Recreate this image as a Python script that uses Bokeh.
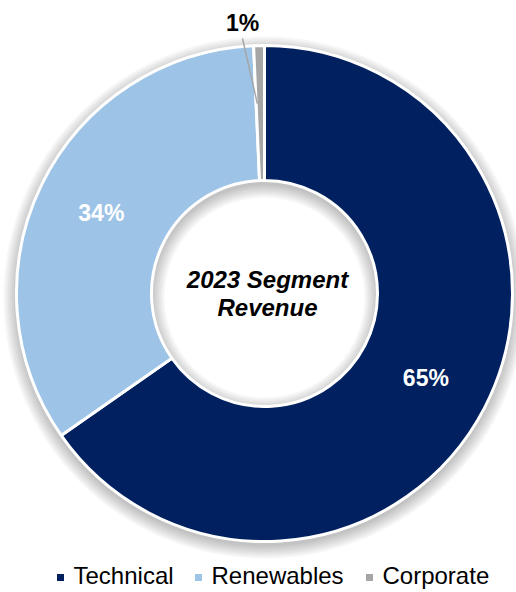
import math
from bokeh.plotting import figure
from bokeh.models import Range1d, ColumnDataSource
from bokeh.core.properties import value
from bokeh.embed import file_html
from bokeh.resources import INLINE

# ---- data ----
categories = ["Technical", "Renewables", "Corporate"]
shares = [65.3, 34.0, 0.7]
pct_labels = ["65%", "34%", "1%"]
colors = ["#002060", "#9DC3E6", "#A6A6A6"]
center_title = ["2023 Segment", "Revenue"]

FONT = "Liberation Sans"
W, H = 516, 592

p = figure(width=W, height=H, output_backend="svg", toolbar_location=None,
           x_range=Range1d(0, W), y_range=Range1d(0, H),
           x_axis_location=None, y_axis_location=None, min_border=0)
p.grid.visible = False
p.outline_line_color = None
p.background_fill_color = "white"
p.border_fill_color = "white"


def Y(wy):
    # window pixel row -> data y
    return H - wy


cx, cy = 264, Y(293)
R_out, R_in = 248, 113

# ---- soft drop shadow ----
for s in [1, 3, 5, 7, 9, 11, 13]:
    p.annulus(x=cx, y=cy - 4, inner_radius=R_in - s, outer_radius=R_out + s,
              fill_color="black", fill_alpha=0.035, line_color=None)

# ---- wedges ----
total = sum(shares)
cum = 0.0
starts, ends, mids = [], [], []
for v in shares:
    a0 = math.pi / 2 - 2 * math.pi * cum / total
    cum += v
    a1 = math.pi / 2 - 2 * math.pi * cum / total
    starts.append(a0)
    ends.append(a1)
    mids.append((a0 + a1) / 2)

src = ColumnDataSource(dict(start=starts, end=ends, color=colors, cat=categories))
p.annular_wedge(x=cx, y=cy, inner_radius=R_in, outer_radius=R_out,
                start_angle="start", end_angle="end", direction="clock",
                fill_color="color", line_color="white", line_width=3, source=src)

# ---- inside labels ----
r_lab = 182
lx = [cx + r_lab * math.cos(m) for m in mids[:2]]
ly = [cy + r_lab * math.sin(m) for m in mids[:2]]
p.text(x=lx, y=ly, text=pct_labels[:2], text_color="white",
       text_font=value(FONT), text_font_style="bold", text_font_size="23px",
       text_align="center", text_baseline="middle")

# ---- outside label for small slice with leader line ----
m = mids[2]
r_end = 190
ex, ey = cx + r_end * math.cos(m) - 3, cy + r_end * math.sin(m)
lab_x, lab_y = 242, Y(22)
p.line(x=[lab_x, ex], y=[Y(38), ey], line_color="#A6A6A6", line_width=1.5)
p.text(x=[lab_x], y=[lab_y], text=[pct_labels[2]], text_color="black",
       text_font=value(FONT), text_font_style="bold", text_font_size="23px",
       text_align="center", text_baseline="middle")

# ---- center title ----
p.text(x=[cx + 3, cx + 3], y=[Y(279), Y(307)], text=center_title,
       text_color="black", text_font=value(FONT), text_font_style="bold italic",
       text_font_size="24px", text_align="center", text_baseline="middle")

# ---- legend ----
leg_sq_x = [60, 198, 369]
leg_mid = 575
p.scatter(x=leg_sq_x, y=[Y(leg_mid + 2)] * 3, marker="square", size=7,
          fill_color=colors, line_color=None)
p.text(x=[x + 13 for x in leg_sq_x], y=[Y(leg_mid)] * 3, text=categories,
       text_color="black", text_font=value(FONT), text_font_size="24px",
       text_align="left", text_baseline="middle")

open("out.html", "w").write(file_html(p, INLINE))
